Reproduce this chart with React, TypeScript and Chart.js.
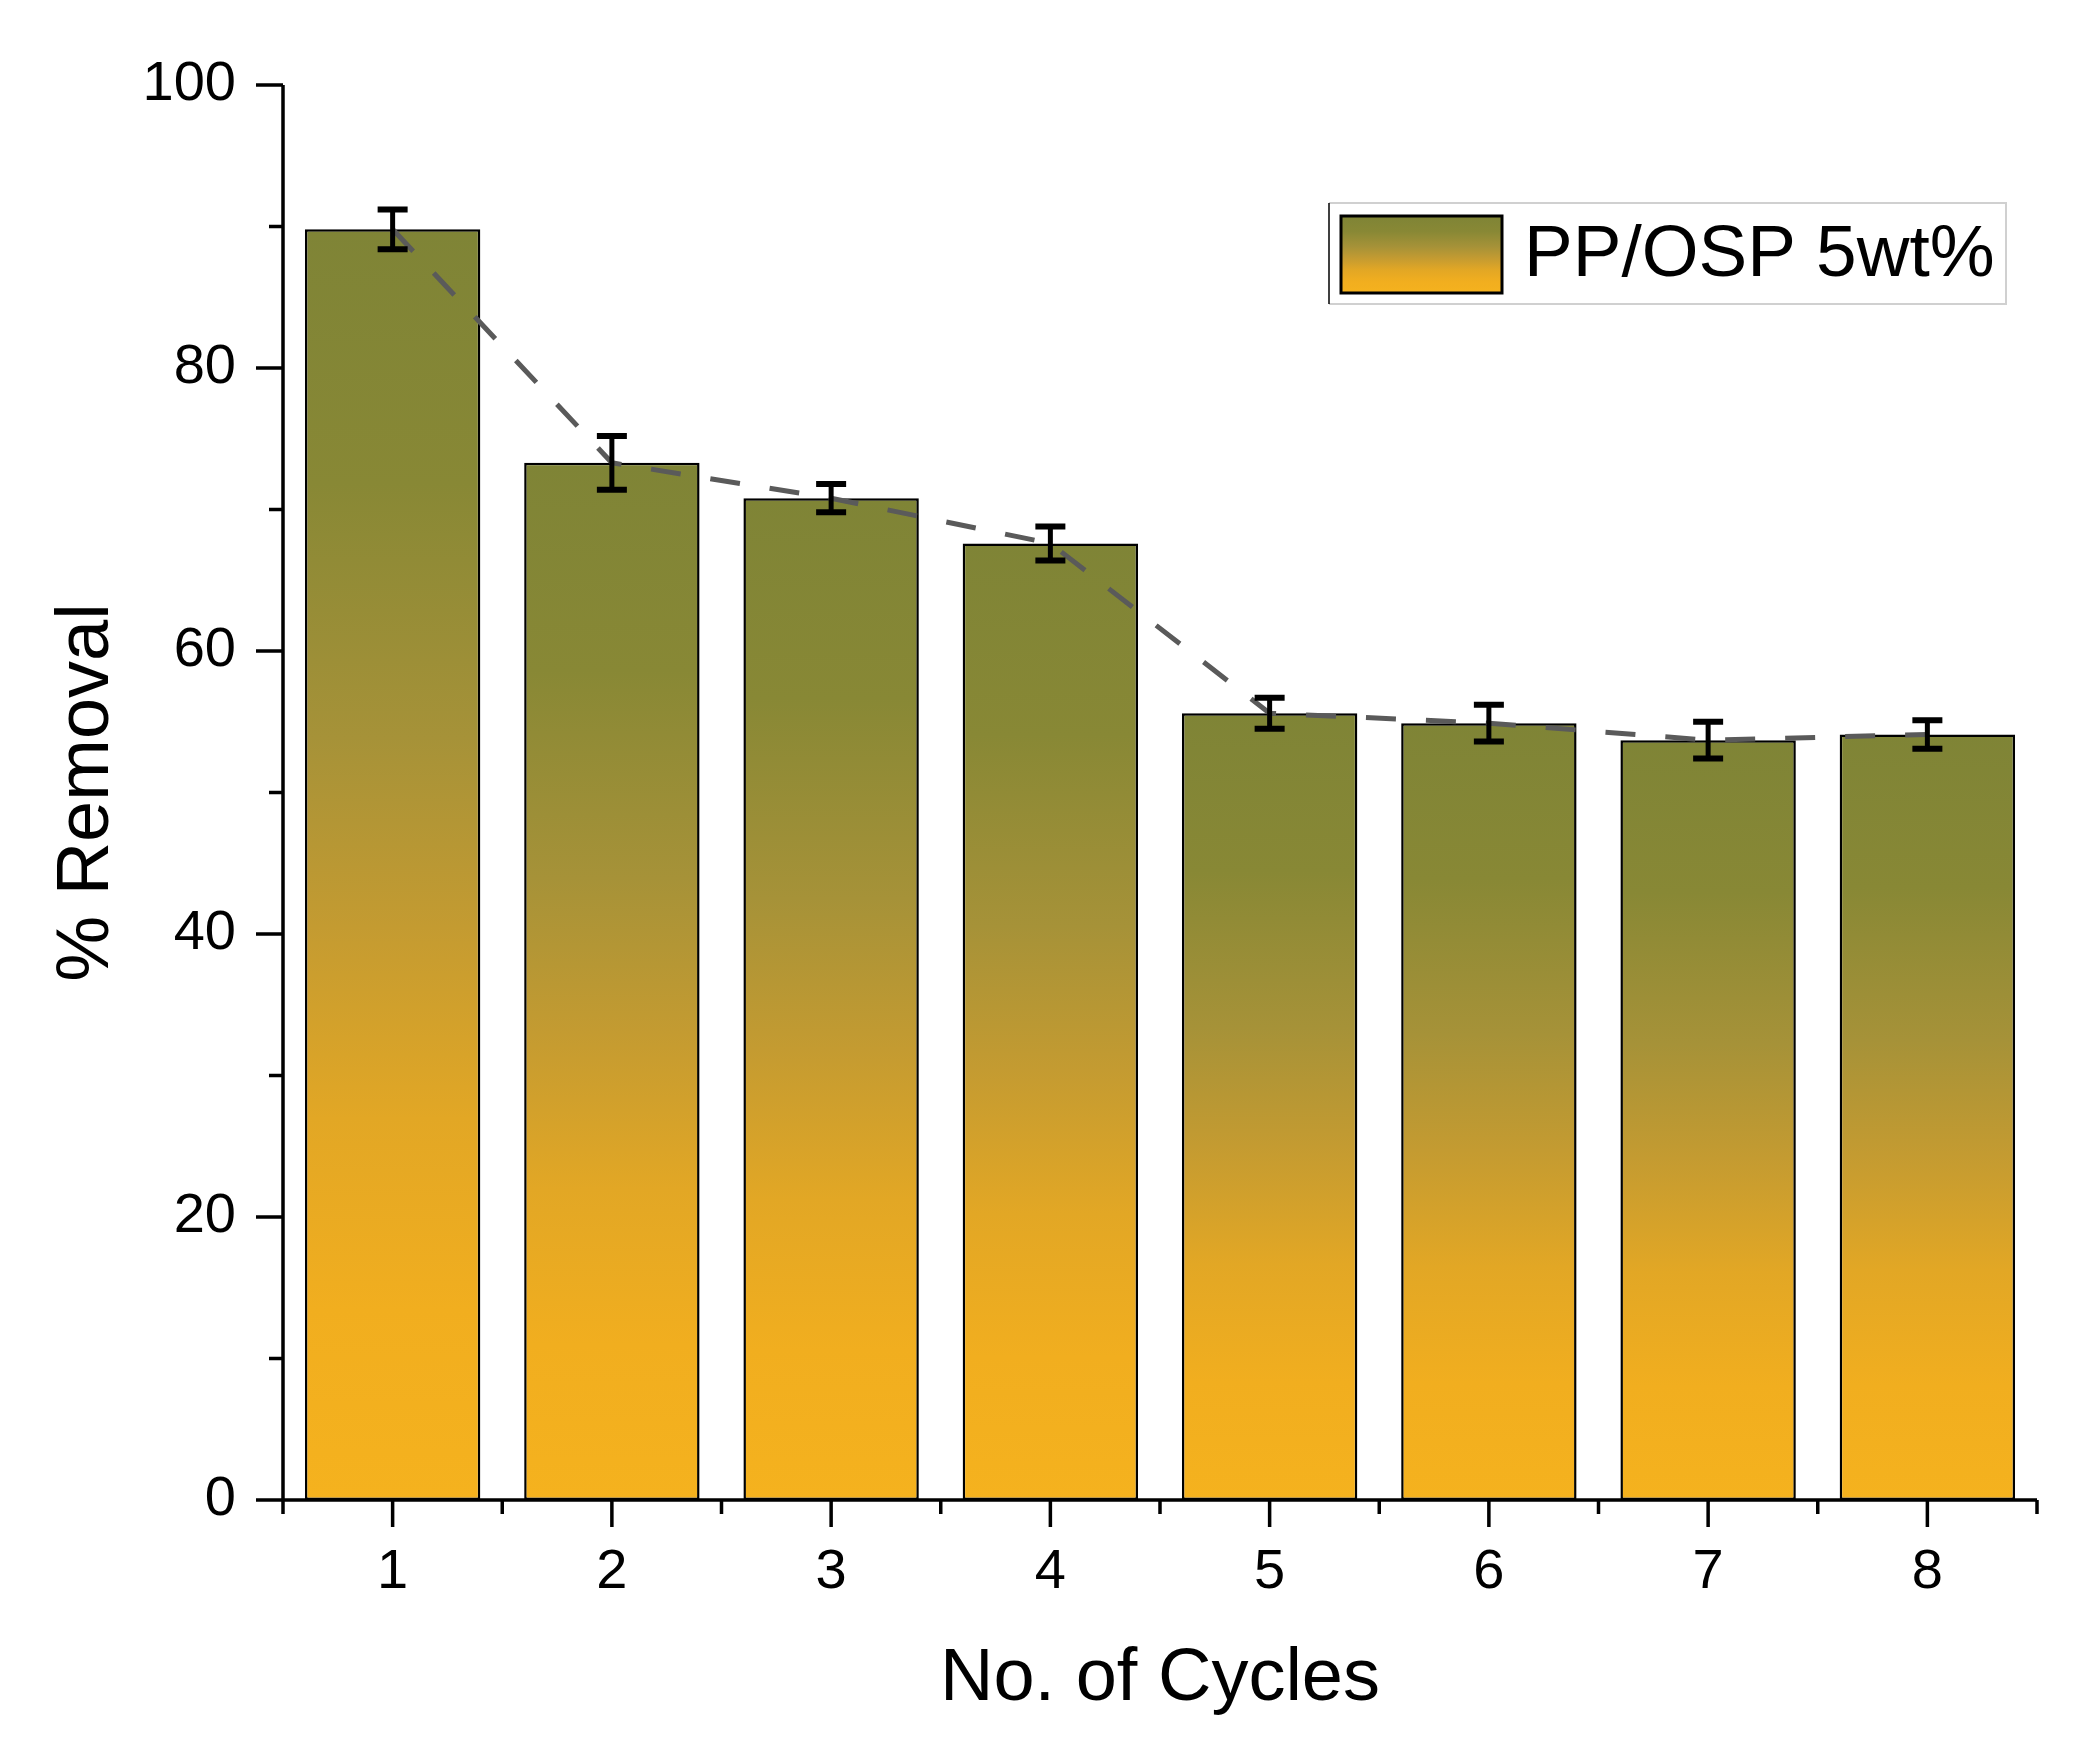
import React, { useEffect, useRef } from "react";
import { Chart, registerables } from "chart.js";

Chart.register(...registerables);

const categories = ["1", "2", "3", "4", "5", "6", "7", "8"];
const removal = [89.8, 73.3, 70.8, 67.6, 55.6, 54.9, 53.7, 54.1];
const errors = [1.4, 1.9, 1.0, 1.2, 1.1, 1.3, 1.3, 1.0];
const seriesLabel = "PP/OSP 5wt%";
const yTicks = [0, 20, 40, 60, 80, 100];
const xTitle = "No. of Cycles";
const yTitle = "% Removal";

const W = 2073;
const H = 1746;
const FONT = "'Liberation Sans', Arial, sans-serif";

const gradStops: [number, string][] = [
  [0, "#7f8436"],
  [0.2, "#888835"],
  [0.4, "#a69238"],
  [0.55, "#c49b31"],
  [0.7, "#e2a725"],
  [0.85, "#f1ae1f"],
  [1, "#f5b21e"],
];

function makeGrad(ctx: CanvasRenderingContext2D, top: number, bottom: number) {
  const g = ctx.createLinearGradient(0, top, 0, bottom);
  gradStops.forEach(([o, c]) => g.addColorStop(o, c));
  return g;
}

const axesPlugin = {
  id: "axesPlugin",
  afterDatasetsDraw(chart: any) {
    const { ctx, scales } = chart;
    const x = scales.x;
    const y = scales.y;
    const area = chart.chartArea;
    ctx.save();
    // error bars
    const meta = chart.getDatasetMeta(0);
    ctx.strokeStyle = "#000";
    meta.data.forEach((bar: any, i: number) => {
      const cx = bar.x;
      const yt = y.getPixelForValue(removal[i] + errors[i]);
      const yb = y.getPixelForValue(removal[i] - errors[i]);
      ctx.lineWidth = 5;
      ctx.beginPath();
      ctx.moveTo(cx, yt);
      ctx.lineTo(cx, yb);
      ctx.stroke();
      ctx.lineWidth = 6;
      ctx.beginPath();
      ctx.moveTo(cx - 15, yt);
      ctx.lineTo(cx + 15, yt);
      ctx.moveTo(cx - 15, yb);
      ctx.lineTo(cx + 15, yb);
      ctx.stroke();
    });
    // axes
    ctx.lineWidth = 3.5;
    ctx.strokeStyle = "#000";
    ctx.beginPath();
    ctx.moveTo(area.left, area.top);
    ctx.lineTo(area.left, area.bottom);
    ctx.moveTo(area.left, area.bottom);
    ctx.lineTo(area.right, area.bottom);
    // y ticks
    for (let v = 0; v <= 100; v += 10) {
      const py = y.getPixelForValue(v);
      const len = v % 20 === 0 ? 27 : 14;
      ctx.moveTo(area.left, py);
      ctx.lineTo(area.left - len, py);
    }
    // x ticks
    for (let i = 0; i <= categories.length; i++) {
      const pxMinor = x.getPixelForValue(i - 0.5);
      ctx.moveTo(pxMinor, area.bottom);
      ctx.lineTo(pxMinor, area.bottom + 14);
      if (i < categories.length) {
        const px = x.getPixelForValue(i);
        ctx.moveTo(px, area.bottom);
        ctx.lineTo(px, area.bottom + 27);
      }
    }
    ctx.stroke();

    // legend
    const lx = 1329, ly = 203, lw = 677, lh = 101;
    ctx.fillStyle = "#fff";
    ctx.fillRect(lx, ly, lw, lh);
    ctx.strokeStyle = "#d0d0d0";
    ctx.lineWidth = 2;
    ctx.beginPath();
    ctx.moveTo(lx, ly);
    ctx.lineTo(lx + lw, ly);
    ctx.lineTo(lx + lw, ly + lh);
    ctx.lineTo(lx, ly + lh);
    ctx.stroke();
    ctx.strokeStyle = "#000";
    ctx.lineWidth = 1.5;
    ctx.beginPath();
    ctx.moveTo(lx, ly);
    ctx.lineTo(lx, ly + lh);
    ctx.stroke();
    const sx = 1341, sy = 216, sw = 161, sh = 77;
    ctx.fillStyle = makeGrad(ctx, sy, sy + sh);
    ctx.fillRect(sx, sy, sw, sh);
    ctx.strokeStyle = "#000";
    ctx.lineWidth = 3;
    ctx.strokeRect(sx, sy, sw, sh);
    ctx.fillStyle = "#000";
    ctx.font = `73px ${FONT}`;
    ctx.textBaseline = "middle";
    ctx.textAlign = "left";
    ctx.fillText(chart.data.datasets[0].label, 1524, 256);
    ctx.restore();
  },
};

export default function App() {
  const ref = useRef<HTMLCanvasElement>(null);
  useEffect(() => {
    document.body.style.margin = "0";
    const canvas = ref.current!;
    const chart = new Chart(canvas, {
      type: "bar",
      data: {
        labels: categories,
        datasets: [
          {
            type: "bar",
            label: seriesLabel,
            data: removal,
            backgroundColor: (c: any) => {
              const ch = c.chart;
              if (!ch.chartArea || c.type !== "data") return "#c49b31";
              const ys = ch.scales.y;
              const top = ys.getPixelForValue(c.parsed.y);
              const bottom = ys.getPixelForValue(0);
              return makeGrad(ch.ctx, top, bottom);
            },
            borderColor: "#000",
            borderWidth: 2.5,
            borderSkipped: false,
            barPercentage: 0.8,
            categoryPercentage: 1,
            order: 2,
          },
          {
            type: "line",
            label: "trend",
            data: removal,
            borderColor: "#5a5a5a",
            borderWidth: 5,
            borderDash: [30, 30],
            pointRadius: 0,
            fill: false,
            tension: 0,
            order: 1,
          },
        ],
      },
      options: {
        animation: false,
        responsive: false,
        devicePixelRatio: 1,
        layout: { padding: { top: 85, right: 36, bottom: 29, left: 0 } },
        plugins: { legend: { display: false }, tooltip: { enabled: false } },
        scales: {
          x: {
            type: "category",
            offset: true,
            grid: { display: false, drawTicks: true, tickLength: 27 },
            border: { display: false },
            ticks: {
              color: "#000",
              font: { family: FONT, size: 56 },
              padding: 12,
              maxRotation: 0,
            },
            title: {
              display: true,
              text: xTitle,
              color: "#000",
              font: { family: FONT, size: 74, lineHeight: 1 },
              padding: { top: 0, bottom: 0 },
            },
            afterFit: (s: any) => {
              s.height = H - 1500 - 29;
            },
          },
          y: {
            min: 0,
            max: 100,
            afterBuildTicks: (s: any) => {
              s.ticks = yTicks.map((v) => ({ value: v }));
            },
            grid: { display: false, drawTicks: true, tickLength: 27 },
            border: { display: false },
            ticks: {
              color: "#000",
              font: { family: FONT, size: 56 },
              padding: 20,
            },
            title: {
              display: true,
              text: yTitle,
              color: "#000",
              font: { family: FONT, size: 74, lineHeight: 1 },
              padding: { top: 51, bottom: 0 },
            },
            afterFit: (s: any) => {
              s.width = 283;
            },
          },
        },
      },
      plugins: [axesPlugin],
    });
    return () => chart.destroy();
  }, []);
  return (
    <div style={{ position: "absolute", left: 0, top: 0, width: W, height: H, background: "#fff" }}>
      <canvas ref={ref} width={W} height={H} style={{ width: W, height: H, display: "block" }} />
    </div>
  );
}
